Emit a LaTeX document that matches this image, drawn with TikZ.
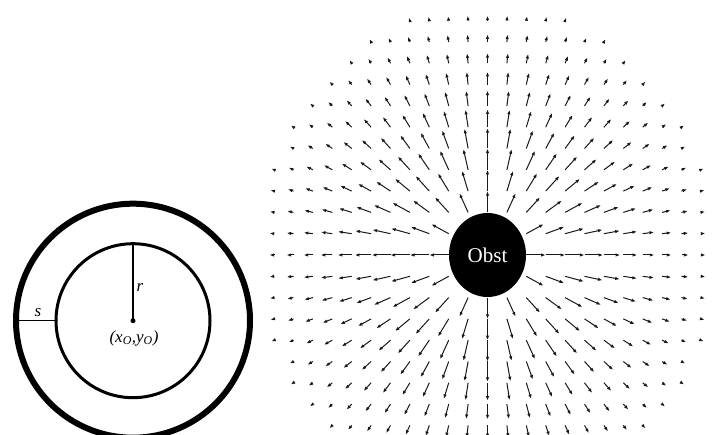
\documentclass[tikz,border=0pt]{standalone}
\usepackage{fontspec}
\setmainfont{Liberation Serif}
\usetikzlibrary{arrows.meta,shapes.geometric}

\begin{document}
\begin{tikzpicture}[x=1pt,y=1pt,
    ring/.style={circle, draw, inner sep=0pt, outer sep=0pt},
    champ/.style={line width=1pt, black!90, -{Latex[length=4.6pt,width=3.4pt]}},
    lbl/.style={font=\fontsize{17}{20}\selectfont\itshape, inner sep=1pt}]
    \useasboundingbox (0,0) rectangle (714,435);

    % Anneau de securite autour de l'obstacle
    \coordinate (C) at (133,114.3);
    \node[ring, line width=6pt, minimum size=234pt] (outer) at (C) {};
    \node[ring, line width=3pt, minimum size=154pt] (inner) at (C) {};
    \fill (C) circle (2.5);
    \draw[line width=1.4pt] (C) -- (inner.north);
    \draw[line width=1pt] (outer.west) -- (inner.west);
    \node[lbl] (r) at (140,147) {r};
    \node[lbl] (s) at (38,122) {s};
    \node[lbl] (xy) at (134,97) {(x\textsubscript{O},y\textsubscript{O})};

    % Champ repulsif : fleches radiales sur une grille
    \coordinate (O) at (487.5,180);
    \begin{scope}[shift={(O)}, x=19.4pt, y=21.3pt]
        \foreach \i in {-11,...,11}{
            \foreach \j in {-8,...,11}{
                \pgfmathtruncatemacro{\dsq}{\i*\i+\j*\j}
                \ifnum\dsq>3 \ifnum\dsq<140
                    \pgfmathsetmacro{\d}{sqrt(\dsq)}
                    \pgfmathsetmacro{\len}{min(1,0.12*(13-\d))/\d}
                    \draw[champ] (\i,\j) -- ++(\len*\i,\len*\j);
                \fi\fi
            }
        }
    \end{scope}
    \node[ellipse, fill=black, text=white, minimum width=77pt, minimum height=84pt,
          inner sep=0pt, font=\fontsize{21}{24}\selectfont] (obst) at (O) {Obst};
\end{tikzpicture}
\end{document}
